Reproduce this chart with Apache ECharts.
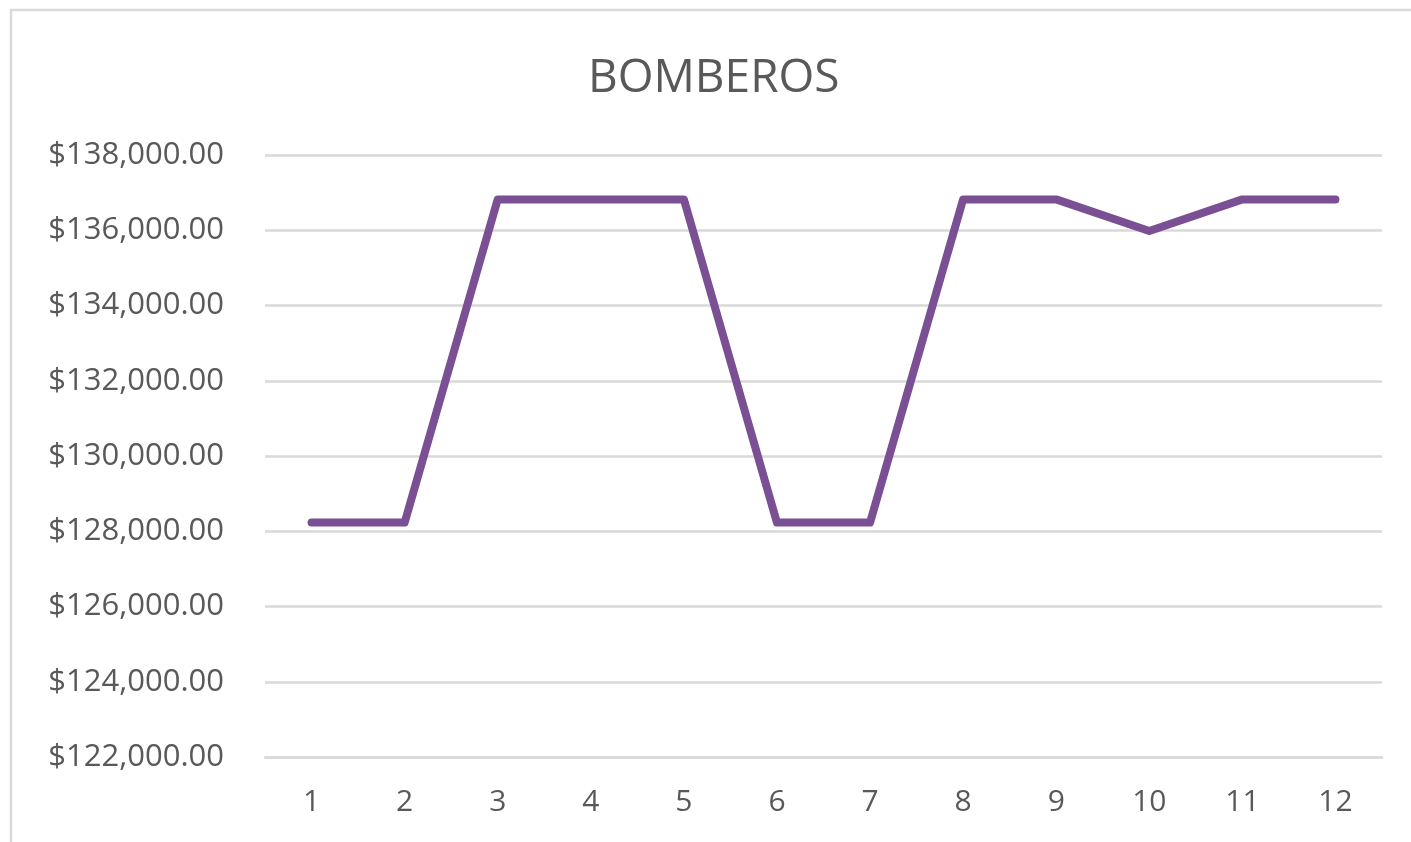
<!DOCTYPE html>
<html>
<head>
<meta charset="utf-8">
<title>BOMBEROS</title>
<script src="https://cdn.jsdelivr.net/npm/echarts@6/dist/echarts.min.js"></script>
<style>
  html, body { margin: 0; padding: 0; background: #fff; }
  #chart { width: 1411px; height: 842px; }
</style>
</head>
<body>
<div id="chart"></div>
<script>
// data
let months = ['1','2','3','4','5','6','7','8','9','10','11','12'];
let pago = [128230, 128230, 136820, 136820, 136820, 128230, 128230, 136820, 136820, 135980, 136820, 136820];
let yMin = 122000, yMax = 138000, yStep = 2000;

let money = (v) => {
    let s = v.toFixed(2);
    let parts = s.split('.');
    parts[0] = parts[0].replace(/\B(?=(\d{3})+(?!\d))/g, ',');
    return '$' + parts.join('.');
};

let myChart = echarts.init(document.getElementById('chart'));
let option = {
    animation: false,
    backgroundColor: '#ffffff',
    textStyle: { fontFamily: 'Open Sans' },
    graphic: [
        {
            type: 'rect',
            silent: true,
            shape: { x: 11, y: 10, width: 1500, height: 900 },
            style: { fill: 'none', stroke: '#d9d9d9', lineWidth: 2.5 }
        }
    ],
    title: {
        text: 'BOMBEROS',
        left: 588,
        top: 56,
        padding: 0,
        textStyle: { fontFamily: 'Open Sans', fontSize: 46, fontWeight: 'normal', color: '#595959' }
    },
    grid: { left: 265, right: 29, top: 155, bottom: 85, containLabel: false },
    xAxis: {
        type: 'category',
        data: months,
        boundaryGap: true,
        axisLine: { show: true, lineStyle: { color: '#d9d9d9', width: 2.5 } },
        axisTick: { show: false },
        axisLabel: { margin: 30, fontSize: 30, color: '#595959', fontFamily: 'Open Sans' }
    },
    yAxis: {
        type: 'value',
        min: yMin,
        max: yMax,
        interval: yStep,
        axisLine: { show: false },
        axisTick: { show: false },
        axisLabel: { margin: 41, fontSize: 31, color: '#595959', fontFamily: 'Open Sans', formatter: money },
        splitLine: { lineStyle: { color: '#d9d9d9', width: 2.5 } }
    },
    series: [
        {
            name: 'BOMBEROS',
            type: 'line',
            data: pago,
            showSymbol: false,
            lineStyle: { color: '#7a4f93', width: 8, cap: 'round', join: 'round' },
            itemStyle: { color: '#7a4f93' }
        }
    ]
};
myChart.setOption(option);
</script>
</body>
</html>
